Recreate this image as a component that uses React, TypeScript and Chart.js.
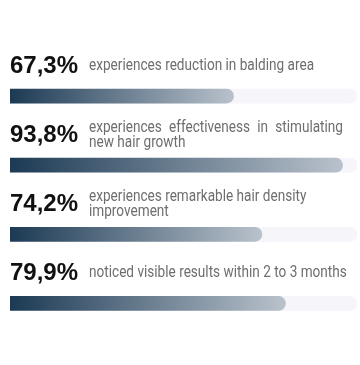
import React, { useEffect, useRef } from "react";
import { Chart, registerables } from "chart.js";

Chart.register(...registerables);

const CATEGORIES = ["balding area", "hair growth", "hair density", "visible results"];
const VALUES = [67.3, 93.8, 74.2, 79.9];
const VALUE_LABELS = ["67,3%", "93,8%", "74,2%", "79,9%"];
const DESCRIPTIONS = [
  ["experiences reduction in balding area"],
  ["experiences effectiveness in stimulating", "new hair growth"],
  ["experiences remarkable hair density", "improvement"],
  ["noticed visible results within 2 to 3 months"],
];
const AXIS_MIN = 13;
const AXIS_MAX = 97.3;
const TRACK = VALUES.map(() => AXIS_MAX);

const DARK = "#1c3a54";
const MID = "#6b7d8f";
const LIGHT = "#b9c2cc";
const TRACK_COLOR = "#f5f5fa";

const DESC_X = 89;
const DESC_WIDTH = 254;
const DESC_SCALE = 0.8;
const DESC_FONT = "17px Roboto, 'Noto Sans', sans-serif";
const PCT_FONT = "bold 24px 'Liberation Sans', Arial, sans-serif";

const textPlugin = {
  id: "rowText",
  afterDatasetsDraw(chart: any) {
    const ctx = chart.ctx as CanvasRenderingContext2D;
    const meta = chart.getDatasetMeta(0);
    const left = chart.chartArea.left;
    ctx.save();
    ctx.textBaseline = "alphabetic";
    ctx.textAlign = "left";
    meta.data.forEach((bar: any, i: number) => {
      const pctBase = bar.y - 23.5;
      ctx.font = PCT_FONT;
      ctx.fillStyle = "#111111";
      ctx.fillText(VALUE_LABELS[i], left, pctBase);

      const lines = DESCRIPTIONS[i];
      const lh = 15;
      const center = pctBase - 2.5;
      ctx.font = DESC_FONT;
      ctx.fillStyle = "#6e6e6e";
      lines.forEach((line, j) => {
        const y = center - ((lines.length - 1) * lh) / 2 + j * lh;
        const natural = ctx.measureText(line).width * DESC_SCALE;
        const isLast = j === lines.length - 1;
        if (!isLast && natural > DESC_WIDTH * 0.9) {
          const words = line.split(" ");
          const widths = words.map((w) => ctx.measureText(w).width * DESC_SCALE);
          const sum = widths.reduce((a, b) => a + b, 0);
          const gap = (DESC_WIDTH - sum) / (words.length - 1);
          let x = DESC_X;
          words.forEach((w, k) => {
            ctx.save();
            ctx.translate(x, y);
            ctx.scale(DESC_SCALE, 1);
            ctx.fillText(w, 0, 0);
            ctx.restore();
            x += widths[k] + gap;
          });
        } else {
          ctx.save();
          ctx.translate(DESC_X, y);
          ctx.scale(DESC_SCALE, 1);
          ctx.fillText(line, 0, 0);
          ctx.restore();
        }
      });
    });
    ctx.restore();
  },
};

export default function App() {
  const ref = useRef<HTMLCanvasElement | null>(null);

  useEffect(() => {
    if (!ref.current) return;
    const chart = new Chart(ref.current, {
      type: "bar",
      data: {
        labels: CATEGORIES,
        datasets: [
          {
            label: "value",
            data: VALUES,
            order: 0,
            grouped: false,
            barThickness: 14,
            borderRadius: 7,
            borderSkipped: false,
            backgroundColor: (c: any) => {
              const ch = c.chart;
              const area = ch.chartArea;
              const xs = ch.scales && ch.scales.x;
              if (!area || !xs || c.raw == null) return MID;
              const end = xs.getPixelForValue(c.raw);
              const g = ch.ctx.createLinearGradient(area.left, 0, end, 0);
              g.addColorStop(0, DARK);
              g.addColorStop(1, LIGHT);
              return g;
            },
          } as any,
          {
            label: "track",
            data: TRACK,
            order: 1,
            grouped: false,
            barThickness: 14,
            borderRadius: 7,
            borderSkipped: false,
            backgroundColor: TRACK_COLOR,
          } as any,
        ],
      },
      options: {
        indexAxis: "y",
        animation: false,
        responsive: true,
        maintainAspectRatio: false,
        events: [],
        layout: { padding: { left: 10, right: 3, top: 61.5, bottom: 27 } },
        plugins: { legend: { display: false }, tooltip: { enabled: false } },
        scales: {
          x: { display: false, min: AXIS_MIN, max: AXIS_MAX },
          y: { display: false },
        },
      },
      plugins: [textPlugin],
    });
    return () => chart.destroy();
  }, []);

  return (
    <div style={{ position: "fixed", left: 0, top: 0, width: 360, height: 365, background: "#ffffff" }}>
      <canvas ref={ref} />
    </div>
  );
}
